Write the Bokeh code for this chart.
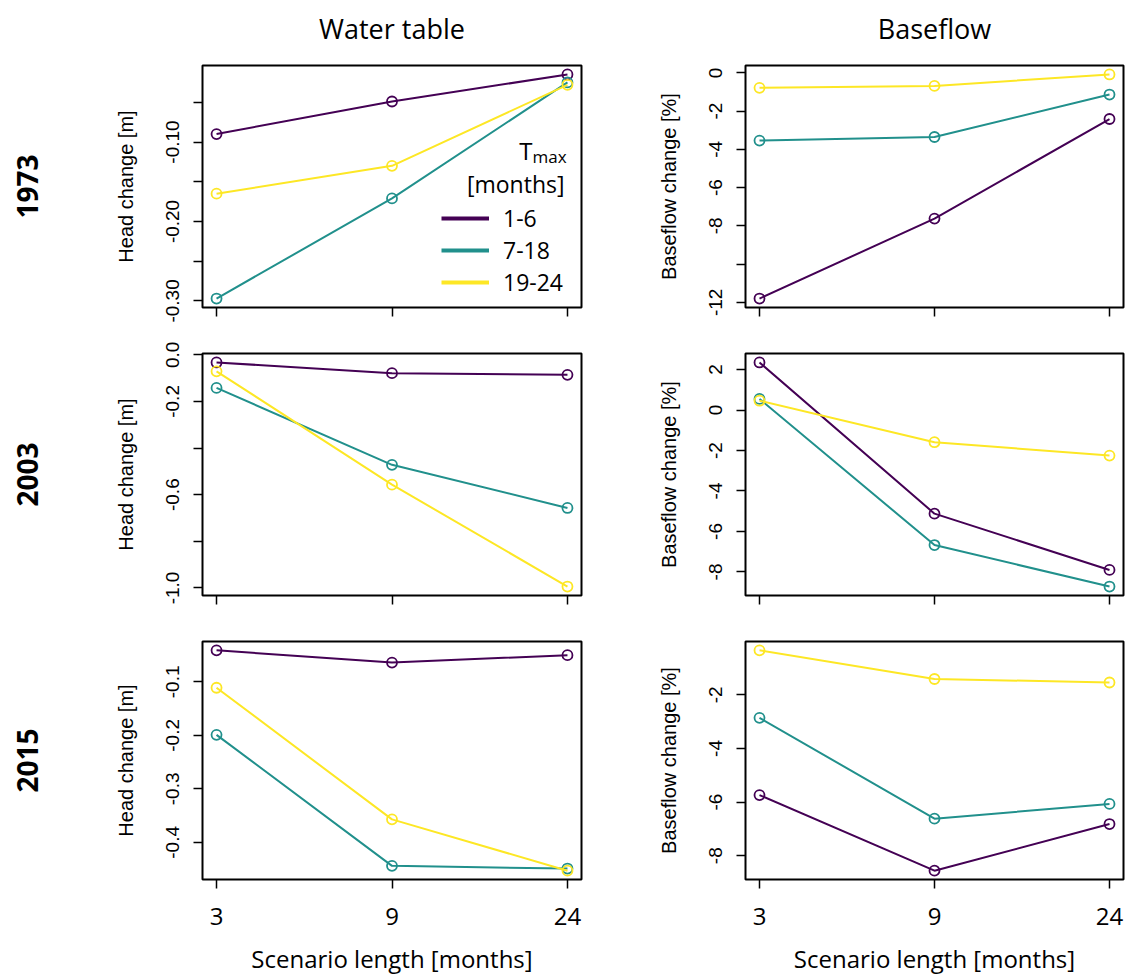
from bokeh.plotting import figure
from bokeh.models import (Range1d, FixedTicker, PrintfTickFormatter, LinearAxis,
                          Legend, LegendItem, Label, ColumnDataSource)
from bokeh.layouts import column, row
from bokeh.embed import file_html
from bokeh.resources import INLINE

# ---------------- data ----------------
scenario_lengths = ["3", "9", "24"]
tmax_classes = ["1-6", "7-18", "19-24"]
years = ["1973", "2003", "2015"]
column_titles = ["Water table", "Baseflow"]
series_colors = ["#440154", "#21908C", "#FDE725"]

# Water table (head change, m)
head_1973_t1_6 = [-0.090, -0.049, -0.015]
head_1973_t7_18 = [-0.297, -0.171, -0.025]
head_1973_t19_24 = [-0.165, -0.130, -0.028]

head_2003_t1_6 = [-0.033, -0.079, -0.086]
head_2003_t7_18 = [-0.142, -0.472, -0.657]
head_2003_t19_24 = [-0.071, -0.557, -0.994]

head_2015_t1_6 = [-0.041, -0.064, -0.050]
head_2015_t7_18 = [-0.199, -0.444, -0.449]
head_2015_t19_24 = [-0.111, -0.357, -0.453]

# Baseflow change (%)
base_1973_t1_6 = [-11.80, -7.62, -2.41]
base_1973_t7_18 = [-3.54, -3.35, -1.13]
base_1973_t19_24 = [-0.78, -0.68, -0.08]

base_2003_t1_6 = [2.35, -5.12, -7.90]
base_2003_t7_18 = [0.55, -6.67, -8.72]
base_2003_t19_24 = [0.46, -1.59, -2.25]

base_2015_t1_6 = [-5.74, -8.56, -6.82]
base_2015_t7_18 = [-2.86, -6.62, -6.07]
base_2015_t19_24 = [-0.34, -1.41, -1.54]

# y tick marks (labelled / unlabelled)
head_1973_ticks = [-0.10, -0.20, -0.30]
head_1973_minor = [-0.05, -0.15, -0.25]
base_1973_ticks = [0, -2, -4, -6, -8, -12]
base_1973_minor = [-10]
head_2003_ticks = [0.0, -0.2, -0.6, -1.0]
head_2003_minor = [-0.4, -0.8]
base_2003_ticks = [2, 0, -2, -4, -6, -8]
base_2003_minor = []
head_2015_ticks = [-0.1, -0.2, -0.3, -0.4]
head_2015_minor = []
base_2015_ticks = [-2, -4, -6, -8]
base_2015_minor = []

# ---------------- styling ----------------
AX_FONT = "Liberation Sans"
TXT_FONT = "Open Sans"

LEFT_W = (202, 379, 10)    # min_border_left, frame, min_border_right
RIGHT_W = (154, 378, 2)
ROW_H = [(65, 242, 26), (20, 242, 26), (20, 241, 95)]


def make_panel(series, major, minor, fmt, ylabel, col_idx, row_idx):
    bl, fw, br = LEFT_W if col_idx == 0 else RIGHT_W
    bt, fh, bb = ROW_H[row_idx]
    n = len(scenario_lengths)
    xs = list(range(1, n + 1))
    allv = [v for s in series for v in s]
    lo, hi = min(allv), max(allv)
    pad = 0.04 * (hi - lo)
    xpad = 0.04 * (n - 1)
    p = figure(width=bl + fw + br, height=bt + fh + bb,
               x_range=Range1d(1 - xpad, n + xpad),
               y_range=Range1d(lo - pad, hi + pad),
               output_backend="svg", toolbar_location=None,
               min_border_left=bl, min_border_right=br,
               min_border_top=bt, min_border_bottom=bb)
    p.grid.visible = False
    p.outline_line_color = "black"
    p.outline_line_width = 2
    p.background_fill_color = "white"
    p.border_fill_color = "white"

    renderers = []
    for vals, c in zip(series, series_colors):
        src = ColumnDataSource(dict(x=xs, y=vals))
        r = p.line("x", "y", source=src, line_color=c, line_width=2)
        p.scatter("x", "y", source=src, marker="circle", size=10,
                  fill_color=None, line_color=c, line_width=1.8)
        renderers.append(r)

    # y axis
    ya = p.yaxis[0]
    ya.ticker = FixedTicker(ticks=major, minor_ticks=minor)
    ya.formatter = PrintfTickFormatter(format=fmt)
    ya.major_label_orientation = "vertical"
    ya.major_label_text_font = AX_FONT
    ya.major_label_text_font_size = "19px"
    ya.major_label_text_color = "black"
    ya.major_tick_in = 0
    ya.major_tick_out = 9
    ya.minor_tick_in = 0
    ya.minor_tick_out = 9
    ya.major_tick_line_width = 1.5
    ya.minor_tick_line_width = 1.5
    ya.major_tick_line_color = "black"
    ya.minor_tick_line_color = "black"
    ya.axis_line_color = None
    ya.major_label_standoff = 14
    ya.axis_label = ylabel
    ya.axis_label_text_font = AX_FONT
    ya.axis_label_text_font_size = "20px"
    ya.axis_label_text_font_style = "normal"
    ya.axis_label_text_color = "black"
    ya.axis_label_standoff = 27

    # x axis
    xa = p.xaxis[0]
    xa.ticker = FixedTicker(ticks=xs, minor_ticks=[])
    xa.major_label_overrides = {i: lab for i, lab in zip(xs, scenario_lengths)}
    xa.major_tick_in = 0
    xa.major_tick_out = 9
    xa.major_tick_line_width = 1.5
    xa.major_tick_line_color = "black"
    xa.axis_line_color = None
    xa.major_label_text_font = TXT_FONT
    xa.major_label_text_font_size = "24px"
    xa.major_label_text_color = "black"
    xa.major_label_standoff = 19
    if row_idx == len(years) - 1:
        xa.axis_label = "Scenario length [months]"
        xa.axis_label_text_font = TXT_FONT
        xa.axis_label_text_font_size = "24px"
        xa.axis_label_text_font_style = "normal"
        xa.axis_label_text_color = "black"
        xa.axis_label_standoff = 14
    else:
        xa.major_label_text_color = None

    # column titles (as a tickless axis above the frame)
    if row_idx == 0:
        ta = LinearAxis(ticker=FixedTicker(ticks=[]), axis_label=column_titles[col_idx],
                        axis_label_text_font=TXT_FONT, axis_label_text_font_size="27px",
                        axis_label_text_font_style="normal", axis_label_text_color="black",
                        axis_line_color=None, major_tick_out=0, major_tick_in=0,
                        minor_tick_out=0, minor_tick_in=0, major_label_text_color=None,
                        major_label_standoff=0, axis_label_standoff=19)
        p.add_layout(ta, "above")

    # row labels (as a tickless axis on the far left)
    if col_idx == 0:
        ra = LinearAxis(ticker=FixedTicker(ticks=[]), axis_label=years[row_idx],
                        axis_label_text_font=TXT_FONT, axis_label_text_font_size="28px",
                        axis_label_text_font_style="bold", axis_label_text_color="black",
                        axis_line_color=None,
                        major_tick_out=0, major_tick_in=0, minor_tick_out=0,
                        minor_tick_in=0, major_label_text_color=None,
                        axis_label_standoff=74)
        p.add_layout(ra, "left")
    return p, renderers


p11, rr = make_panel([head_1973_t1_6, head_1973_t7_18, head_1973_t19_24],
                     head_1973_ticks, head_1973_minor, "%.2f", "Head change [m]", 0, 0)
p12, _ = make_panel([base_1973_t1_6, base_1973_t7_18, base_1973_t19_24],
                    base_1973_ticks, base_1973_minor, "%d", "Baseflow change [%]", 1, 0)
p21, _ = make_panel([head_2003_t1_6, head_2003_t7_18, head_2003_t19_24],
                    head_2003_ticks, head_2003_minor, "%.1f", "Head change [m]", 0, 1)
p22, _ = make_panel([base_2003_t1_6, base_2003_t7_18, base_2003_t19_24],
                    base_2003_ticks, base_2003_minor, "%d", "Baseflow change [%]", 1, 1)
p31, _ = make_panel([head_2015_t1_6, head_2015_t7_18, head_2015_t19_24],
                    head_2015_ticks, head_2015_minor, "%.1f", "Head change [m]", 0, 2)
p32, _ = make_panel([base_2015_t1_6, base_2015_t7_18, base_2015_t19_24],
                    base_2015_ticks, base_2015_minor, "%d", "Baseflow change [%]", 1, 2)

# legend in the first panel (thicker legend lines, drawn by off-plot dummies)
items = []
for lab, c in zip(tmax_classes, series_colors):
    dummy = p11.line(x=[float("nan")], y=[float("nan")], line_color=c, line_width=4)
    items.append(LegendItem(label=lab, renderers=[dummy]))
leg = Legend(items=items, location=(239, 9), orientation="vertical",
             border_line_color=None, background_fill_alpha=0, padding=0, margin=0,
             spacing=0, glyph_width=48, glyph_height=30, label_height=30,
             label_standoff=14, label_text_font=TXT_FONT, label_text_font_size="23px",
             label_text_color="black")
p11.add_layout(leg, "center")

p11.add_layout(Label(x=330, y=157, x_units="screen", y_units="screen", text="T",
                     text_align="right", text_baseline="alphabetic",
                     text_font=TXT_FONT, text_font_size="24px", text_color="black"))
p11.add_layout(Label(x=330, y=151, x_units="screen", y_units="screen", text="max",
                     text_align="left", text_baseline="alphabetic",
                     text_font=TXT_FONT, text_font_size="17px", text_color="black"))
p11.add_layout(Label(x=362, y=124, x_units="screen", y_units="screen", text="[months]",
                     text_align="right", text_baseline="middle",
                     text_font=TXT_FONT, text_font_size="23px", text_color="black"))

layout = column(row(p11, p12), row(p21, p22), row(p31, p32))
open("out.html", "w").write(file_html(layout, INLINE))
